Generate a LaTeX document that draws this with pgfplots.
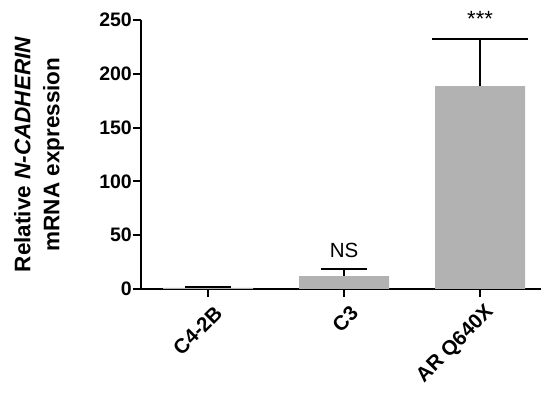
\documentclass[border=0pt]{standalone}
\usepackage{pgfplots}
\pgfplotsset{compat=1.18}
\usepackage{fontspec}
\setmainfont{Liberation Sans}
\definecolor{bargray}{RGB}{178,178,178}
\begin{document}
\begin{tikzpicture}
\begin{axis}[
  scale only axis,
  width=400pt, height=269pt,
  xmin=-0.493, xmax=2.448,
  ymin=0, ymax=250,
  clip=false,
  axis x line*=bottom, axis y line*=left,
  axis line style={line width=2pt,-},
  xtick={0,1,2},
  xticklabels={C4-2B,C3,AR Q640X},
  ytick={0,50,100,150,200,250},
  tick align=outside,
  major tick length=8pt,
  tick style={line width=2pt,black},
  /pgf/number format/assume math mode=true,
  ticklabel style={font=\bfseries\fontsize{19.5}{21}\selectfont},
  yticklabel style={inner sep=1pt},
  xticklabel style={font=\bfseries\fontsize{20.5}{22}\selectfont, xshift=12pt, yshift=-11pt, rotate=45, anchor=east, inner sep=2pt},
  ylabel={Relative \textit{N-CADHERIN}\\mRNA expression},
  ylabel style={at={(rel axis cs:-0.255,0.5)}, anchor=center, align=center,
    font=\bfseries\fontsize{22.5}{29}\selectfont},
]
\addplot[ybar, bar width=90pt, fill=bargray, draw=none, bar shift=0pt]
  coordinates {(0,1) (1,12) (2,188.5)};
\addplot[draw=none, mark=none, forget plot,
  error bars/.cd, y dir=plus, y explicit,
  error bar style={line width=2pt, black},
  error mark options={rotate=90, mark size=23pt, line width=2pt, black}]
  coordinates {(0,1) +- (0,0.6) (1,12) +- (0,6.3)};
\addplot[draw=none, mark=none, forget plot,
  error bars/.cd, y dir=plus, y explicit,
  error bar style={line width=2pt, black},
  error mark options={rotate=90, mark size=48pt, line width=2pt, black}]
  coordinates {(2,188.5) +- (0,43.5)};
\node[anchor=base, font=\fontsize{20.5}{22}\selectfont] at (axis cs:1,28.8) {NS};
\node[anchor=base, font=\fontsize{22}{24}\selectfont] at (axis cs:2,244) {***};
\coordinate (bl) at (rel axis cs:-0.3525,-0.3903);
\coordinate (tr) at (rel axis cs:1,1.0743);
\end{axis}
\pgfresetboundingbox
\path[use as bounding box] (bl) rectangle (tr);
\end{tikzpicture}
\end{document}
